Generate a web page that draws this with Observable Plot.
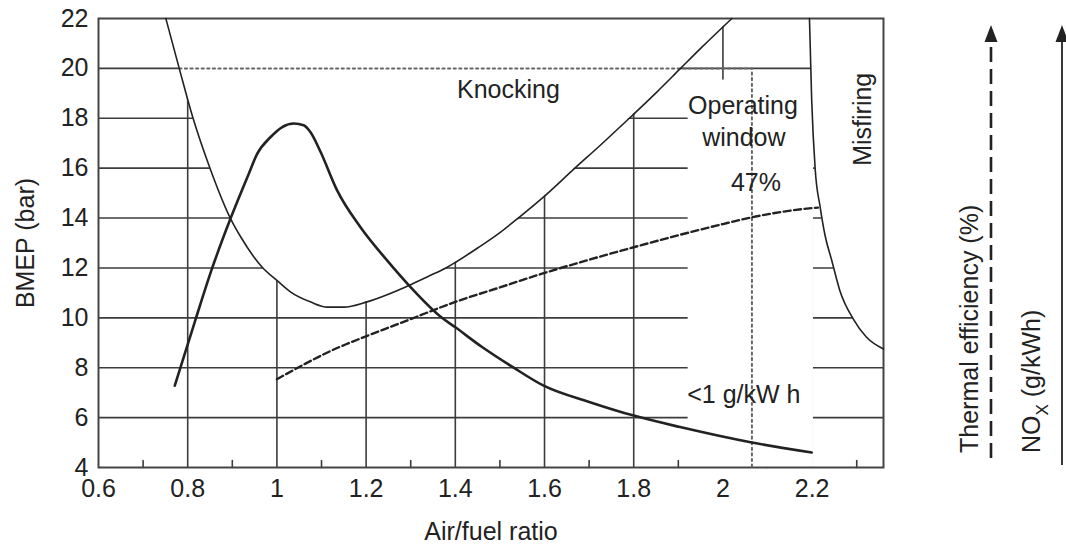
<!DOCTYPE html>
<html>
<head>
<meta charset="utf-8">
<script src="https://cdn.jsdelivr.net/npm/d3@7"></script>
<script src="https://cdn.jsdelivr.net/npm/@observablehq/plot@0.6"></script>
<style>
  html, body { margin: 0; padding: 0; background: #fff; }
  #chart { width: 1066px; height: 547px; }
  #chart svg { display: block; }
</style>
</head>
<body>
<div id="chart"></div>
<script>
// ---- axes / grid ----
const xTicks = [0.6, 0.8, 1, 1.2, 1.4, 1.6, 1.8, 2, 2.2];
const xGrid = [0.8, 1, 1.2, 1.4, 1.6, 1.8, 2, 2.2];
const xMinor = [0.7, 0.9, 1.1, 1.3, 1.5, 1.7, 1.9, 2.1, 2.3];
const yTicks = [4, 6, 8, 10, 12, 14, 16, 18, 20, 22];
const yGrid = [6, 8, 10, 12, 14, 16, 18, 20];

// ---- knock limit (BMEP vs air/fuel ratio) ----
const knockX = [0.751, 0.781, 0.811, 0.852, 0.896, 0.919, 0.967, 1.0, 1.031, 1.076, 1.113, 1.15, 1.2, 1.25, 1.296, 1.34, 1.382, 1.4, 1.45, 1.5, 1.541, 1.6, 1.665, 1.73, 1.793, 1.85, 1.905, 1.95, 2.02];
const knockY = [22, 20, 18.06, 15.9, 13.98, 13.24, 12.03, 11.5, 11.03, 10.63, 10.43, 10.43, 10.63, 10.95, 11.3, 11.67, 12.03, 12.22, 12.8, 13.42, 14.0, 14.88, 15.95, 17.0, 18.05, 19.02, 20.0, 20.8, 22];

// ---- misfire limit ----
const misfireX = [2.194, 2.199, 2.207, 2.218, 2.229, 2.244, 2.262, 2.292, 2.322, 2.36];
const misfireY = [22, 18.73, 15.92, 14.44, 13.3, 12.3, 11.1, 9.96, 9.22, 8.75];

// ---- NOx (solid thick) ----
const noxX = [0.771, 0.818, 0.855, 0.896, 0.937, 0.956, 0.986, 1.012, 1.038, 1.06, 1.075, 1.098, 1.135, 1.187, 1.247, 1.296, 1.37, 1.4, 1.46, 1.531, 1.598, 1.702, 1.8, 1.904, 2.065, 2.199];
const noxY = [7.28, 9.96, 12.0, 13.98, 15.78, 16.58, 17.25, 17.65, 17.79, 17.72, 17.45, 16.65, 15.11, 13.64, 12.3, 11.3, 10.0, 9.62, 8.83, 8.0, 7.28, 6.62, 6.08, 5.62, 5.0, 4.6];

// ---- thermal efficiency (dashed) ----
const effX = [1.0, 1.139, 1.2, 1.3, 1.4, 1.5, 1.6, 1.7, 1.8, 1.9, 2.0, 2.065, 2.2, 2.213];
const effY = [7.54, 8.82, 9.26, 9.95, 10.64, 11.22, 11.8, 12.33, 12.83, 13.31, 13.76, 14.03, 14.4, 14.42];

// ---- operating window (dotted limits) ----
const dottedX = [0.781, 2.065, 2.065];
const dottedY = [20, 20, 4];

// ---- operating-window label box ----
const boxX1 = [1.922], boxX2 = [2.203], boxY1 = [4], boxY2 = [19.53];

// ---- annotations ----
const noteText = ["Knocking", "Operating", "window", "47%", "<1 g/kW h"];
const noteX = [1.519, 2.045, 2.047, 2.074, 2.047];
const noteY = [19.12, 18.48, 17.2, 15.39, 6.9];
const sideText = ["Misfiring"];
const sideX = [2.314];
const sideY = [17.96];

const zip = (xs, ys) => xs.map((x, i) => ({x, y: ys[i]}));
const knock = zip(knockX, knockY);
const misfire = zip(misfireX, misfireY);
const nox = zip(noxX, noxY);
const eff = zip(effX, effY);
const dotted = zip(dottedX, dottedY);
const box = boxX1.map((d, i) => ({x1: d, x2: boxX2[i], y1: boxY1[i], y2: boxY2[i]}));
const notes = noteText.map((t, i) => ({text: t, x: noteX[i], y: noteY[i]}));
const sides = sideText.map((t, i) => ({text: t, x: sideX[i], y: sideY[i]}));

const FONT = "'Liberation Sans', Arial, Helvetica, sans-serif";
const INK = "#222";
const GRID = "#3c3c3c";
const CURVE = "monotone-x";

const chart = Plot.plot({
  width: 1066,
  height: 547,
  marginLeft: 98,
  marginRight: 183,
  marginTop: 18,
  marginBottom: 80,
  style: {fontFamily: FONT, fontSize: "25px", color: INK, background: "#fff"},
  x: {domain: [0.6, 2.36]},
  y: {domain: [4, 22]},
  marks: [
    Plot.ruleY(yGrid, {stroke: GRID, strokeWidth: 1.6}),
    Plot.ruleX(xGrid, {stroke: GRID, strokeWidth: 1.6}),
    Plot.vector(xMinor, {x: d => d, y: () => 4, length: 7, anchor: "start", shape: "spike", r: 0, fill: "none", stroke: GRID, strokeWidth: 1.6}),
    // white masks for the knocking and misfiring regions and the label box
    Plot.areaY(knock, {x: "x", y1: "y", y2: () => 22, fill: "white", curve: CURVE}),
    Plot.areaY(misfire, {x: "x", y1: "y", y2: () => 22, fill: "white", curve: CURVE}),
    Plot.rect(box, {x1: "x1", x2: "x2", y1: "y1", y2: "y2", fill: "white"}),
    Plot.frame({stroke: "#444", strokeWidth: 2}),
    Plot.line(dotted, {x: "x", y: "y", stroke: "#666", strokeWidth: 2, strokeDasharray: "2.2,3.4"}),
    Plot.line(eff, {x: "x", y: "y", stroke: INK, strokeWidth: 2.4, strokeDasharray: "7,3.5", curve: CURVE}),
    Plot.line(nox, {x: "x", y: "y", stroke: INK, strokeWidth: 2.6, curve: CURVE}),
    Plot.line(knock, {x: "x", y: "y", stroke: INK, strokeWidth: 1.6, curve: CURVE}),
    Plot.line(misfire, {x: "x", y: "y", stroke: INK, strokeWidth: 1.6, curve: CURVE}),
    Plot.text(notes, {x: "x", y: "y", text: "text", fontSize: 25, fill: INK}),
    Plot.text(sides, {x: "x", y: "y", text: "text", fontSize: 25, fill: INK, rotate: -90}),
    Plot.axisY({ticks: yTicks, tickSize: 0, tickPadding: 10, fontSize: 25, fill: INK, label: null}),
    Plot.axisX({ticks: xTicks, tickSize: 0, tickPadding: 12, fontSize: 25, fill: INK, label: null,
      tickFormat: d => String(+d.toFixed(1))}),
    Plot.text(["BMEP (bar)"], {frameAnchor: "left", textAnchor: "middle", lineAnchor: "middle", dx: -73, rotate: -90, fontSize: 25, fill: INK}),
    Plot.text(["Air/fuel ratio"], {frameAnchor: "bottom", textAnchor: "middle", lineAnchor: "middle", dy: 64, fontSize: 25, fill: INK})
  ]
});

document.getElementById("chart").appendChild(chart);

// ---- right-side key: thermal efficiency (dashed arrow) and NOx (solid arrow) ----
const svg = d3.select(chart);
const key = svg.append("g").attr("font-family", FONT).attr("fill", INK).attr("text-anchor", "start");

key.append("line")
  .attr("x1", 991).attr("x2", 991).attr("y1", 47).attr("y2", 465)
  .attr("stroke", INK).attr("stroke-width", 2.6).attr("stroke-dasharray", "15,7");
key.append("path").attr("d", "M991,25L984.5,42L997.5,42Z").attr("fill", INK);

key.append("line")
  .attr("x1", 1062).attr("x2", 1062).attr("y1", 40).attr("y2", 465)
  .attr("stroke", INK).attr("stroke-width", 1.8);
key.append("path").attr("d", "M1062,25L1055.5,42L1068.5,42Z").attr("fill", INK);

key.append("text")
  .attr("transform", "translate(978,453) rotate(-90)")
  .attr("text-anchor", "start")
  .attr("font-size", 25)
  .text("Thermal efficiency (%)");

const nt = key.append("text")
  .attr("transform", "translate(1040,453) rotate(-90)")
  .attr("text-anchor", "start")
  .attr("font-size", 25);
nt.append("tspan").text("NO");
nt.append("tspan").attr("font-size", 17).attr("dy", 8).text("X");
nt.append("tspan").attr("dy", -8).text(" (g/kWh)");
</script>
</body>
</html>
